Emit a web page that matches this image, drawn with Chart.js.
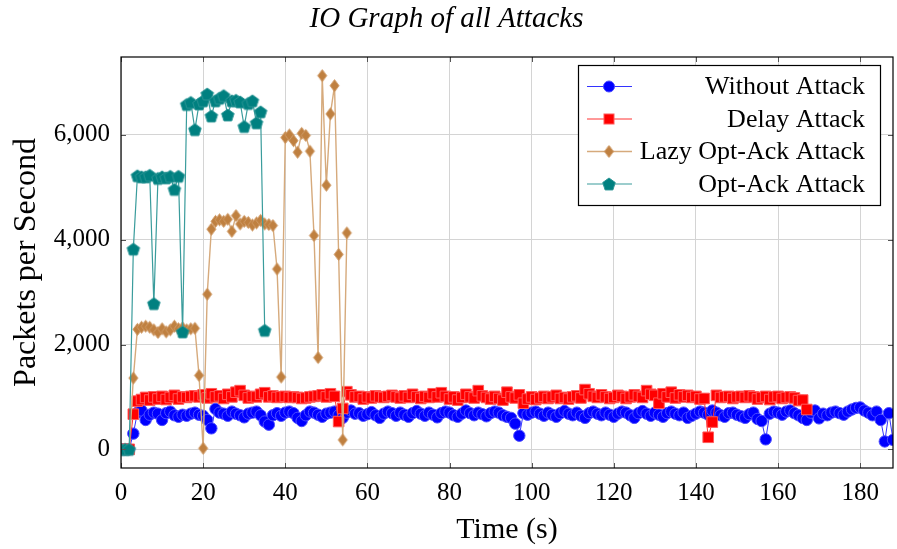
<!DOCTYPE html>
<html>
<head>
<meta charset="utf-8">
<script src="https://cdn.jsdelivr.net/npm/chart.js@4.4.1/dist/chart.umd.min.js"></script>
<style>
  html, body { margin: 0; padding: 0; background: #fff; }
</style>
</head>
<body>
<canvas id="io-chart" width="897" height="549"></canvas>
<script>
const seriesNames = ['Without Attack', 'Delay Attack', 'Lazy Opt-Ack Attack', 'Opt-Ack Attack'];
const xTicks = [0, 20, 40, 60, 80, 100, 120, 140, 160, 180];
const yTicks = [0, 2000, 4000, 6000];

// packets per second, one value per second starting at t = 0
const withoutAttack = [
  0, 0, 0, 300, 700, 740, 560, 660, 700, 680,
  560, 690, 720, 650, 620, 660, 640, 680, 700, 660,
  640, 560, 400, 770, 700, 680, 640, 720, 680, 650,
  610, 680, 700, 720, 650, 530, 470, 650, 690, 640,
  700, 720, 690, 600, 540, 650, 720, 700, 660, 620,
  680, 700, 720, 650, 600, 700, 740, 680, 690, 640,
  670, 710, 650, 600, 680, 720, 690, 640, 700, 660,
  620, 690, 730, 680, 640, 700, 660, 610, 690, 720,
  700, 650, 620, 680, 740, 690, 650, 700, 670, 630,
  690, 720, 700, 650, 620, 600, 490, 260, 690, 660,
  700, 720, 680, 640, 700, 660, 620, 690, 730, 680,
  650, 700, 640, 600, 690, 720, 680, 650, 700, 660,
  620, 680, 720, 700, 650, 600, 690, 730, 680, 640,
  700, 660, 620, 690, 720, 680, 650, 700, 600, 640,
  680, 720, 700, 660, 740, 700, 650, 620, 690, 700,
  660, 630, 600, 670, 700, 580, 540, 190, 680, 720,
  700, 660, 720, 740, 690, 650, 600, 560, 700, 740,
  590, 680, 650, 700, 720, 690, 660, 720, 760, 790,
  800, 740, 700, 650, 720, 560, 150, 690, 180
];
const delayAttack = [
  0, 0, 0, 670, 920, 950, 990, 940, 1000, 960,
  1010, 950, 990, 1030, 960, 1000, 990, 1010, 1020, 1000,
  1040, 980, 1060, 1000, 1020, 970, 1050, 1000, 1090, 1120,
  1030, 980, 1010, 1000, 1050, 1080, 1000, 1020, 990, 1000,
  1010, 990, 1000, 990, 970, 980, 1000, 1010, 1020, 1040,
  1000, 1060, 1010, 530, 780, 1100, 1040, 1000, 1010, 960,
  1000, 980, 1020, 1000, 990, 1010, 1030, 1000, 980, 1020,
  990, 1050, 1000, 970, 1010, 990, 1060, 1000, 1080, 1010,
  960, 1000, 940, 990, 1050, 1000, 980, 1120, 1020, 990,
  960, 1010, 970, 940, 1090, 1000, 980, 1040, 880, 960,
  1000, 950, 980, 1010, 970, 1000, 1030, 970, 990, 960,
  1000, 1020, 980, 1140, 1060, 1010, 990, 1040, 1000, 970,
  990, 1030, 1010, 970, 1000, 1040, 1010, 990, 1120, 1050,
  1030, 880, 1060, 1000, 1090, 980, 1040, 1000, 1030, 990,
  1010, 960, 970, 230, 520, 1030, 990, 1000, 1010, 970,
  1000, 1010, 990, 1020, 1000, 960, 990, 1010, 950, 1000,
  1010, 970, 990, 1000, 980, 930, 940, 760
];
const lazyOptAck = [
  0, 0, 0, 1360, 2290, 2330, 2350, 2330, 2280, 2230,
  2300, 2240, 2280, 2350, 2300, 2320, 2280, 2300, 2310, 1410,
  20, 2960, 4200, 4350, 4380, 4350, 4390, 4160, 4460, 4300,
  4350, 4330, 4280, 4320, 4370, 4300, 4290, 4270, 3440, 1380,
  5950, 6000, 5890, 5670, 6030, 5990, 5690, 4080, 1750, 7130,
  5040, 6400, 6940, 3720, 180, 4130
];
const optAck = [
  0, 0, 0, 3820, 5220, 5200, 5200, 5230, 2780, 5170,
  5200, 5180, 5210, 4960, 5210, 2240, 6580, 6620, 6100, 6590,
  6650, 6780, 6360, 6650, 6700, 6750, 6380, 6650, 6660, 6630,
  6160, 6600, 6650, 6230, 6440, 2270
];

const serif = "'Liberation Serif', 'DejaVu Serif', serif";

function makeMarker(w, h, draw) {
  const c = document.createElement('canvas');
  c.width = w;
  c.height = h;
  draw(c.getContext('2d'), w, h);
  return c;
}

const diamond = makeMarker(13, 15, (g, w, h) => {
  g.beginPath();
  g.moveTo(w / 2, 1.5);
  g.lineTo(w - 2, h / 2);
  g.lineTo(w / 2, h - 1.5);
  g.lineTo(2, h / 2);
  g.closePath();
  g.fillStyle = '#bf8040';
  g.fill();
  g.strokeStyle = '#cf9a66';
  g.lineWidth = 1;
  g.stroke();
});

const pentagon = makeMarker(16, 16, (g, w, h) => {
  g.beginPath();
  for (let k = 0; k < 5; k++) {
    const a = -Math.PI / 2 + k * 2 * Math.PI / 5;
    const px = w / 2 + 6.6 * Math.cos(a);
    const py = h / 2 + 0.6 + 6.6 * Math.sin(a);
    if (k === 0) g.moveTo(px, py); else g.lineTo(px, py);
  }
  g.closePath();
  g.fillStyle = '#008080';
  g.fill();
  g.strokeStyle = '#2a9494';
  g.lineWidth = 1;
  g.stroke();
});

const toPoints = arr => arr.map((v, i) => ({ x: i, y: v }));

const datasets = [
  {
    label: seriesNames[0], data: toPoints(withoutAttack), order: 4,
    borderColor: '#3333ff', borderWidth: 1,
    pointStyle: 'circle', pointRadius: 5.7, pointBackgroundColor: '#0000ff', pointBorderColor: '#4d4dff', pointBorderWidth: 1
  },
  {
    label: seriesNames[1], data: toPoints(delayAttack), order: 3,
    borderColor: '#ff3333', borderWidth: 1,
    pointStyle: 'rect', pointRadius: 7.5, pointBackgroundColor: '#ff0000', pointBorderColor: '#ff5a5a', pointBorderWidth: 1
  },
  {
    label: seriesNames[2], data: toPoints(lazyOptAck), order: 2,
    borderColor: '#d6aa7c', borderWidth: 1.4,
    pointStyle: diamond, pointRadius: 6
  },
  {
    label: seriesNames[3], data: toPoints(optAck), order: 1,
    borderColor: '#3a9c9c', borderWidth: 1.2,
    pointStyle: pentagon, pointRadius: 7
  }
];

const frame = {
  id: 'frame',
  afterDraw(chart) {
    const { ctx, chartArea: a, scales } = chart;
    ctx.save();
    // inner tick marks
    ctx.strokeStyle = '#555';
    ctx.lineWidth = 1;
    ctx.beginPath();
    xTicks.forEach(t => {
      const px = Math.round(scales.x.getPixelForValue(t)) + 0.5;
      ctx.moveTo(px, a.bottom); ctx.lineTo(px, a.bottom - 5);
      ctx.moveTo(px, a.top); ctx.lineTo(px, a.top + 5);
    });
    yTicks.forEach(t => {
      const py = Math.round(scales.y.getPixelForValue(t)) + 0.5;
      ctx.moveTo(a.left, py); ctx.lineTo(a.left + 5, py);
      ctx.moveTo(a.right, py); ctx.lineTo(a.right - 5, py);
    });
    ctx.stroke();
    ctx.strokeStyle = '#000';
    ctx.lineWidth = 1.2;
    ctx.strokeRect(a.left, a.top, a.right - a.left, a.bottom - a.top);

    // legend
    const bx = 578.5, by = 65.5, bw = 302, bh = 140;
    ctx.fillStyle = '#fff';
    ctx.fillRect(bx, by, bw, bh);
    ctx.strokeStyle = '#000';
    ctx.lineWidth = 1.2;
    ctx.strokeRect(bx, by, bw, bh);
    ctx.font = '26px ' + serif;
    ctx.textAlign = 'right';
    ctx.textBaseline = 'middle';
    datasets.forEach((ds, i) => {
      const y = 86.5 + i * 32.5;
      ctx.strokeStyle = ds.borderColor;
      ctx.lineWidth = ds.borderWidth;
      ctx.beginPath();
      ctx.moveTo(587, y); ctx.lineTo(632, y);
      ctx.stroke();
      if (ds.pointStyle === 'circle') {
        ctx.beginPath();
        ctx.arc(609, y, 5.5, 0, Math.PI * 2);
        ctx.fillStyle = ds.pointBackgroundColor;
        ctx.fill();
        ctx.strokeStyle = ds.pointBorderColor;
        ctx.lineWidth = 1;
        ctx.stroke();
      } else if (ds.pointStyle === 'rect') {
        ctx.fillStyle = ds.pointBackgroundColor;
        ctx.fillRect(604, y - 5, 10, 10);
        ctx.strokeStyle = ds.pointBorderColor;
        ctx.lineWidth = 1;
        ctx.strokeRect(604, y - 5, 10, 10);
      } else {
        const img = ds.pointStyle;
        ctx.drawImage(img, 609 - img.width / 2, y - img.height / 2);
      }
      ctx.fillStyle = '#000';
      ctx.fillText(ds.label, 865, y + 1);
    });
    ctx.restore();
  }
};

new Chart(document.getElementById('io-chart'), {
  type: 'line',
  data: { datasets },
  options: {
    responsive: false,
    animation: false,
    events: [],
    layout: { autoPadding: false, padding: { left: 0, right: 4, top: 0, bottom: 0 } },
    elements: { line: { tension: 0, fill: false } },
    plugins: {
      legend: { display: false },
      tooltip: { enabled: false },
      title: {
        display: true,
        text: 'IO Graph of all Attacks',
        color: '#000',
        font: { family: serif, size: 29, style: 'italic', weight: 'normal' },
        padding: { top: 2, bottom: 20.2 }
      }
    },
    scales: {
      x: {
        type: 'linear',
        min: 0,
        max: 188,
        afterFit(scale) {
          scale.height = 81;
          scale.paddingLeft = 0;
          scale.paddingRight = 0;
        },
        afterBuildTicks(scale) { scale.ticks = xTicks.map(v => ({ value: v })); },
        grid: { color: '#d4d4d4', lineWidth: 1, drawTicks: false },
        border: { display: false },
        ticks: { color: '#000', padding: 10, maxRotation: 0, font: { family: serif, size: 25 } },
        title: { display: true, text: 'Time (s)', color: '#000', padding: { bottom: 1 }, font: { family: serif, size: 30 } }
      },
      y: {
        type: 'linear',
        min: -356.5,
        max: 7486.5,
        afterFit(scale) { scale.width = 121; },
        afterBuildTicks(scale) { scale.ticks = yTicks.map(v => ({ value: v })); },
        grid: { color: '#d4d4d4', lineWidth: 1, drawTicks: false },
        border: { display: false },
        ticks: { color: '#000', padding: 11, font: { family: serif, size: 25 }, callback: v => v.toLocaleString('en-US') },
        title: { display: true, text: 'Packets per Second', color: '#000', padding: { top: 7 }, font: { family: serif, size: 32 } }
      }
    }
  },
  plugins: [frame]
});
</script>
</body>
</html>
